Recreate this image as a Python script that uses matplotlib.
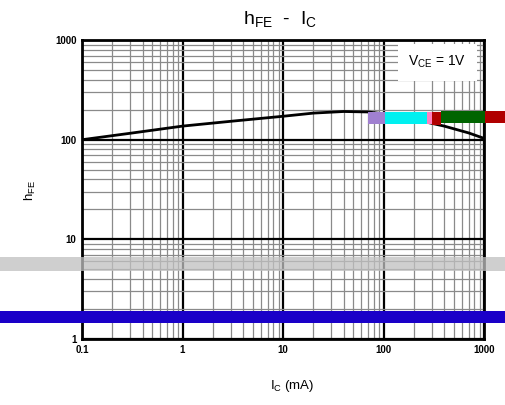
import numpy as np
import matplotlib
matplotlib.use('Agg')
import matplotlib.pyplot as plt
from matplotlib.patches import Rectangle
from matplotlib.ticker import NullFormatter, LogLocator

#===============================================================================
# data
ic_ma  = [0.1, 0.3, 1, 3, 10, 20, 40, 70, 100, 200, 400, 700, 1000]
h_fe   = [100, 116, 137, 153, 172, 185, 192, 190, 182, 160, 137, 117, 103]
x_ticks = [0.1, 1, 10, 100, 1000]
x_labels = ["0.1", "1", "10", "100", "1000"]
y_ticks = [1, 10, 100, 1000]
y_labels = ["1", "10", "100", "1000"]
#===============================================================================
plt.rcParams['font.family'] = ['Liberation Sans', 'DejaVu Sans']
plt.rcParams['mathtext.fontset'] = 'custom'
plt.rcParams['mathtext.rm'] = 'Liberation Sans'
plt.rcParams['mathtext.it'] = 'Liberation Sans'

fig = plt.figure(figsize=(5.06, 4.05), dpi=100)
ax = fig.add_axes([0.162, 0.163, 0.795, 0.738])

ax.set_xscale('log')
ax.set_yscale('log')
ax.set_xlim(0.1, 1000)
ax.set_ylim(1, 1000)

ax.grid(True, which='minor', color='#8a8a8a', lw=0.9)
ax.grid(True, which='major', color='black', lw=1.6)
ax.xaxis.set_minor_locator(LogLocator(base=10, subs=np.arange(2, 10)))
ax.yaxis.set_minor_locator(LogLocator(base=10, subs=np.arange(2, 10)))
ax.xaxis.set_minor_formatter(NullFormatter())
ax.yaxis.set_minor_formatter(NullFormatter())
ax.set_axisbelow(True)

ax.plot(ic_ma, h_fe, color='black', lw=2.0, zorder=3)

ax.set_xticks(x_ticks)
ax.set_xticklabels(x_labels, fontsize=7, fontweight='bold')
ax.set_yticks(y_ticks)
ax.set_yticklabels(y_labels, fontsize=7, fontweight='bold')
ax.tick_params(which='both', length=0, pad=4)
for sp in ax.spines.values():
    sp.set_linewidth(2.0)

ax.text(0.883, 0.926, r'V$_{\mathrm{CE}}$ = 1V', transform=ax.transAxes,
        ha='center', va='center', fontsize=10,
        bbox=dict(boxstyle='square,pad=0.75', fc='white', ec='none'), zorder=4)

fig.text(0.553, 0.952, r'h$_{\mathrm{FE}}$  -  I$_{\mathrm{C}}$', ha='center', va='center', fontsize=14)
fig.text(0.578, 0.048, r'I$_{\mathrm{C}}$ (mA)', ha='center', va='center', fontsize=9.5)
fig.text(0.06, 0.53, r'h$_{\mathrm{FE}}$', ha='center', va='center', fontsize=9.5, rotation=90)

# scan artefacts in the source picture
W, H = 506.0, 405.0
def band(x0, y0, x1, y1, col, alpha=1.0, z=5):
    fig.patches.append(Rectangle((x0 / W, 1 - y1 / H), (x1 - x0) / W, (y1 - y0) / H,
                                 transform=fig.transFigure, fc=col, ec='none',
                                 alpha=alpha, zorder=z))
band(0, 257, 506, 271, '#c0c0c0', alpha=0.75)
band(0, 311, 506, 323, '#1a00c8')
band(368, 112, 385, 124, '#a080d0')
band(385, 112, 427, 124, '#00f0f0')
band(427, 112, 432, 124, '#ff80c0')
band(432, 112, 441, 125, '#b00000')
band(441, 111, 485, 123, '#006400')
band(485, 111, 506, 123, '#b00000')

fig.savefig('out.png', dpi=100)
